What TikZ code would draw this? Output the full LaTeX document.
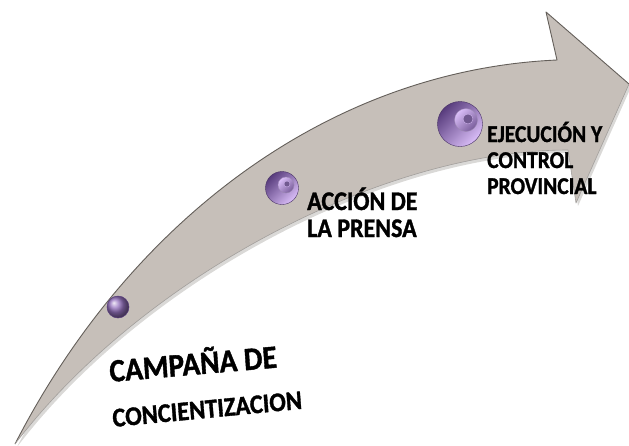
\documentclass[tikz,border=0pt]{standalone}
\usepackage{fontspec}
\setmainfont{Carlito}
\newfontfamily\lblfont{Carlito}[BoldFeatures={FakeBold=1.3}]
\definecolor{arrowfill}{RGB}{198,191,185}
\definecolor{arrowedge}{RGB}{100,95,90}
\definecolor{arrowshadow}{RGB}{150,145,140}
\definecolor{beaddark}{RGB}{88,60,125}
\definecolor{beadmid}{RGB}{150,115,192}
\definecolor{beadlight}{RGB}{218,190,248}
\begin{document}
\begin{tikzpicture}[x=1pt,y=-1pt,
  lbl/.style={inner sep=0pt, anchor=base west, text=black},
  beadouter/.style={circle, inner sep=0pt, draw=beaddark!80!black, line width=0.4pt,
     top color=beaddark, bottom color=beadlight, shading angle=45},
  beadinner/.style={circle, inner sep=0pt, draw=beaddark!60, line width=0.3pt,
     top color=beadlight, bottom color=beadmid!80!black, shading angle=45},
  beadhole/.style={circle, inner sep=0pt, fill=beaddark!85, draw=beadlight, line width=0.3pt},
  beadball/.style={circle, inner sep=0pt, draw=beaddark, line width=0.5pt, ball color=beadmid}]
\useasboundingbox (0,0) rectangle (629,445);
% shadow
\begin{scope}[shift={(2,3)}]
\fill[arrowshadow, opacity=0.35] (15,444) .. controls (130,220) and (330,70) .. (557,60)
  -- (546,12) -- (629,84) -- (576,203) -- (568,150)
  .. controls (380,150) and (140,280) .. (15,444) -- cycle;
\end{scope}
% arrow body
\fill[arrowfill] (15,444) .. controls (130,220) and (330,70) .. (557,60)
  -- (546,12) -- (629,84) -- (576,203) -- (568,150)
  .. controls (380,150) and (140,280) .. (15,444) -- cycle;
\draw[arrowedge, line width=0.9pt, line join=round] (15,444) .. controls (130,220) and (330,70) .. (557,60)
  -- (546,12) -- (629,84);
\draw[arrowedge!60, line width=0.6pt, line join=round] (629,84) -- (576,203) -- (568,150)
  .. controls (380,150) and (140,280) .. (15,444);
% beads
\node[beadball, minimum size=22pt] (b1) at (118,307) {};
\node[beadouter, minimum size=33pt] (b2) at (282,188) {};
\node[beadinner, minimum size=16pt] (b2i) at (286,185) {};
\node[beadhole, minimum size=6pt] (b2h) at (287,184) {};
\node[beadouter, minimum size=45pt] (b3) at (460,124) {};
\node[beadinner, minimum size=23pt] (b3i) at (466,120) {};
\node[beadhole, minimum size=10pt] (b3h) at (468,119) {};
% labels
\node[lbl, font=\lblfont\bfseries\fontsize{21.5}{24}\selectfont, yscale=1.12] (e1) at (487,142) {EJECUCIÓN Y};
\node[lbl, font=\lblfont\bfseries\fontsize{21.5}{24}\selectfont, yscale=1.12] (e2) at (487,168) {CONTROL};
\node[lbl, font=\lblfont\bfseries\fontsize{21.5}{24}\selectfont, yscale=1.12] (e3) at (487,194) {PROVINCIAL};
\node[lbl, font=\lblfont\bfseries\fontsize{24}{26}\selectfont, yscale=1.12] (a1) at (307,210) {ACCIÓN DE};
\node[lbl, font=\lblfont\bfseries\fontsize{24}{26}\selectfont, yscale=1.12] (a2) at (307,237) {LA PRENSA};
\node[lbl, font=\lblfont\bfseries\fontsize{29.5}{30}\selectfont, yscale=1.1, rotate=4.5] (c1) at (110,382) {CAMPAÑA DE};
\node[lbl, font=\lblfont\bfseries\fontsize{24.5}{26}\selectfont, yscale=1.1, rotate=5] (c2) at (113,427) {CONCIENTIZACION};
\end{tikzpicture}
\end{document}
